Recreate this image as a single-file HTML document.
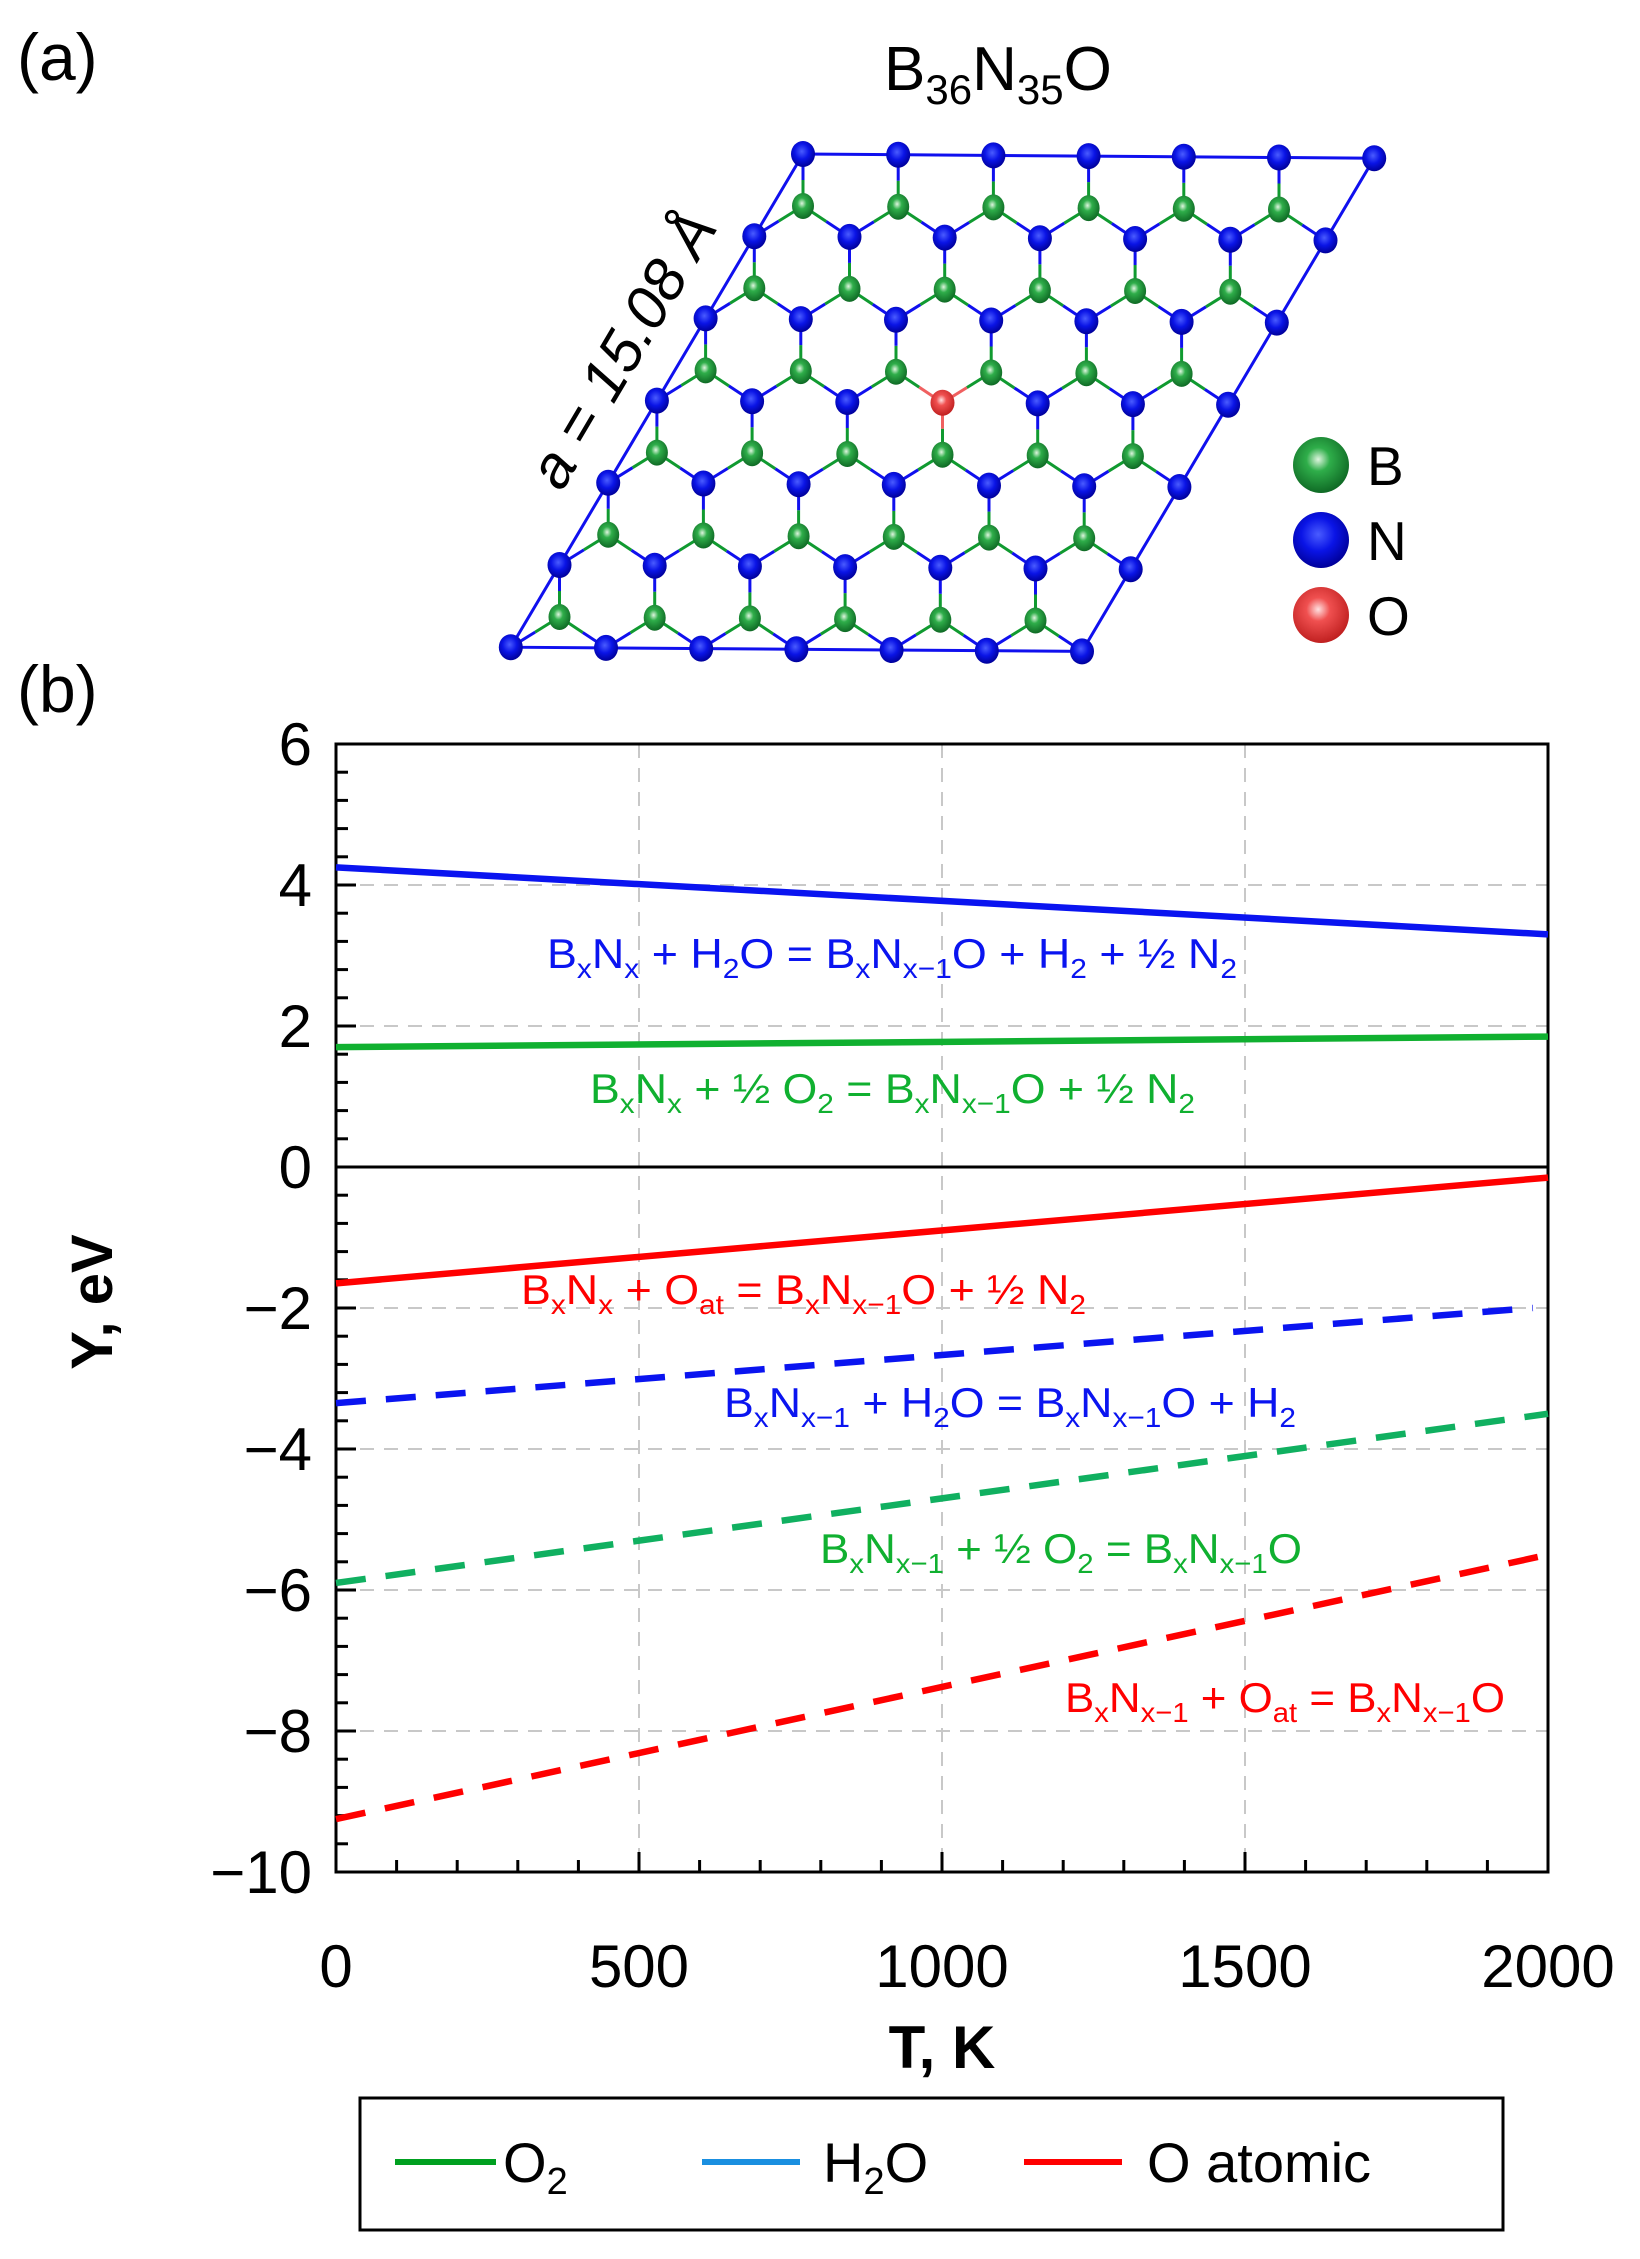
<!DOCTYPE html>
<html><head><meta charset="utf-8">
<style>
html,body{margin:0;padding:0;background:#fff;}
svg{display:block;font-family:"Liberation Sans",Arial,sans-serif;}
</style></head>
<body>
<svg id="s" width="1640" height="2259" viewBox="0 0 1640 2259" xmlns="http://www.w3.org/2000/svg">
<defs>
<radialGradient id="gB" cx="0.45" cy="0.4" r="0.6"><stop offset="0" stop-color="#dff5df"/><stop offset="0.35" stop-color="#2fae4a"/><stop offset="1" stop-color="#0f6a25"/></radialGradient>
<radialGradient id="gN" cx="0.45" cy="0.4" r="0.6"><stop offset="0" stop-color="#4a5cff"/><stop offset="0.5" stop-color="#0a14e6"/><stop offset="1" stop-color="#00009a"/></radialGradient>
<radialGradient id="gO" cx="0.45" cy="0.4" r="0.6"><stop offset="0" stop-color="#ffe0e0"/><stop offset="0.35" stop-color="#f05050"/><stop offset="1" stop-color="#c02020"/></radialGradient>
</defs>
<text x="17" y="80" font-size="66">(a)</text>
<text x="17" y="712" font-size="66">(b)</text>
<text x="884" y="90" font-size="62">B<tspan font-size="42" dy="14">36</tspan><tspan dy="-14">N</tspan><tspan font-size="42" dy="14">35</tspan><tspan dy="-14">O</tspan></text>
<text transform="translate(640,360) rotate(-59.4)" text-anchor="middle" font-size="60" font-style="italic">a = 15.08 Å</text>
<g id="lat"></g>
<circle cx="1321" cy="465" r="28" fill="url(#gB)"/>
<circle cx="1321" cy="540" r="28" fill="url(#gN)"/>
<circle cx="1321" cy="615" r="28" fill="url(#gO)"/>
<text x="1367" y="485" font-size="55">B</text>
<text x="1367" y="560" font-size="55">N</text>
<text x="1367" y="635" font-size="55">O</text>
<g id="plot"></g>
<rect x="360" y="2098" width="1143" height="132" fill="none" stroke="#000" stroke-width="3"/>
<line x1="395" y1="2162" x2="496" y2="2162" stroke="#00a020" stroke-width="6"/>
<text x="503" y="2182" font-size="56">O<tspan font-size="38" dy="12">2</tspan></text>
<line x1="702" y1="2162" x2="800" y2="2162" stroke="#1a8fe0" stroke-width="6"/>
<text x="823" y="2182" font-size="56">H<tspan font-size="38" dy="12">2</tspan><tspan dy="-12">O</tspan></text>
<line x1="1024" y1="2162" x2="1122" y2="2162" stroke="#ff0000" stroke-width="6"/>
<text x="1147" y="2182" font-size="56">O atomic</text>
</svg>
<script>
var NS="http://www.w3.org/2000/svg";
function el(p,t,a,txt){var e=document.createElementNS(NS,t);for(var k in a)e.setAttribute(k,a[k]);if(txt!=null)e.textContent=txt;p.appendChild(e);return e;}
var lat=document.getElementById("lat");
var TL=[803,154],a1=[95.2,0.7],a2=[-48.7,82.2];
function N(j,i){return [TL[0]+i*a1[0]+j*a2[0],TL[1]+i*a1[1]+j*a2[1]];}
function B(j,i){var n=N(j,i);return [n[0],n[1]+52];}
var c0=N(0,0),c1=N(0,6),c2=N(6,6),c3=N(6,0);
el(lat,"polygon",{points:[c0,c1,c2,c3].map(function(p){return p.join(",")}).join(" "),fill:"none",stroke:"#1010ee","stroke-width":3});
function bond(p,q,cp,cq){var m=[(p[0]+q[0])/2,(p[1]+q[1])/2];
el(lat,"line",{x1:p[0],y1:p[1],x2:m[0],y2:m[1],stroke:cp,"stroke-width":3});
el(lat,"line",{x1:m[0],y1:m[1],x2:q[0],y2:q[1],stroke:cq,"stroke-width":3});}
function isO(j,i){return j==3&&i==3;}
for(var j=0;j<6;j++)for(var i=0;i<6;i++){var b=B(j,i);
 var nb=[[j,i],[j+1,i],[j+1,i+1]];
 nb.forEach(function(q){bond(b,N(q[0],q[1]),"#109a30",isO(q[0],q[1])?"#f06060":"#1010ee");});}
for(var j=0;j<6;j++)for(var i=0;i<6;i++){var b=B(j,i);el(lat,"ellipse",{cx:b[0],cy:b[1],rx:11,ry:13,fill:"url(#gB)"});}
for(var j=0;j<7;j++)for(var i=0;i<7;i++){var n=N(j,i);
 if(isO(j,i))el(lat,"ellipse",{cx:n[0],cy:n[1],rx:12,ry:13,fill:"url(#gO)"});
 else el(lat,"ellipse",{cx:n[0],cy:n[1],rx:12,ry:13,fill:"url(#gN)"});}
var P=document.getElementById("plot");
var x0=336,x1=1548;
function X(t){return x0+t*(x1-x0)/2000;}
function Y(v){return 744+(6-v)*70.5;}
[500,1000,1500].forEach(function(t){el(P,"line",{x1:X(t),y1:Y(6),x2:X(t),y2:Y(-10),stroke:"#c8c8c8","stroke-width":2,"stroke-dasharray":"14,10"});});
[4,2,-2,-4,-6,-8].forEach(function(v){el(P,"line",{x1:x0,y1:Y(v),x2:x1,y2:Y(v),stroke:"#c8c8c8","stroke-width":2,"stroke-dasharray":"14,10"});});
for(var v=-10;v<=6.001;v+=0.4){var maj=Math.abs(v-Math.round(v/2)*2)<0.01;
 el(P,"line",{x1:x0,y1:Y(v),x2:x0+(maj?20:12),y2:Y(v),stroke:"#000","stroke-width":3});}
for(var t=0;t<=2000;t+=100){var maj=t%500==0;
 el(P,"line",{x1:X(t),y1:Y(-10),x2:X(t),y2:Y(-10)-(maj?20:12),stroke:"#000","stroke-width":3});}
el(P,"rect",{x:x0,y:Y(6),width:x1-x0,height:Y(-10)-Y(6),fill:"none",stroke:"#000","stroke-width":3});
el(P,"line",{x1:x0,y1:Y(0),x2:x1,y2:Y(0),stroke:"#000","stroke-width":3});
[6,4,2,0,-2,-4,-6,-8,-10].forEach(function(v){el(P,"text",{x:312,y:Y(v)+21,"text-anchor":"end","font-size":60},(v<0?"\u2212":"")+Math.abs(v));});
[0,500,1000,1500,2000].forEach(function(t){el(P,"text",{x:X(t),y:1987,"text-anchor":"middle","font-size":60},t);});
el(P,"text",{x:942,y:2068,"text-anchor":"middle","font-size":60,"font-weight":"bold"},"T, K");
el(P,"text",{transform:"translate(112,1302) rotate(-90)","text-anchor":"middle","font-size":58,"font-weight":"bold"},"Y, eV");
function ln(t0,v0,t1,v1,c,d){var a={x1:X(t0),y1:Y(v0),x2:X(t1),y2:Y(v1),stroke:c,"stroke-width":6.5};if(d)a["stroke-dasharray"]="30,20";el(P,"line",a);}
ln(0,4.25,2000,3.3,"#0a14f0");
ln(0,1.7,2000,1.85,"#10b030");
ln(0,-1.65,2000,-0.15,"#ff0000");
ln(0,-3.35,1975,-2.0,"#0a14f0",1);
ln(0,-5.9,2000,-3.5,"#10b060",1);
ln(0,-9.25,2000,-5.5,"#ff0000",1);
function ann(x,y,w,c,parts){var t=el(P,"text",{x:x,y:y,fill:c,"font-size":42,textLength:w,lengthAdjust:"spacingAndGlyphs"});
 parts.forEach(function(p){el(t,"tspan",p[1]?{"font-size":28,dy:10}:{dy:p[2]||0},p[0]);});}
var S=1;
ann(547,968,690,"#0a14f0",[["B"],["x",S],["N",0,-10],["x",S],[" + H",0,-10],["2",S],["O = B",0,-10],["x",S],["N",0,-10],["x\u22121",S],["O + H",0,-10],["2",S],[" + \u00bd N",0,-10],["2",S]]);
ann(590,1103,605,"#10b030",[["B"],["x",S],["N",0,-10],["x",S],[" + \u00bd O",0,-10],["2",S],[" = B",0,-10],["x",S],["N",0,-10],["x\u22121",S],["O + \u00bd N",0,-10],["2",S]]);
ann(521,1304,565,"#ff0000",[["B"],["x",S],["N",0,-10],["x",S],[" + O",0,-10],["at",S],[" = B",0,-10],["x",S],["N",0,-10],["x\u22121",S],["O + \u00bd N",0,-10],["2",S]]);
ann(724,1417,572,"#0a14f0",[["B"],["x",S],["N",0,-10],["x\u22121",S],[" + H",0,-10],["2",S],["O = B",0,-10],["x",S],["N",0,-10],["x\u22121",S],["O + H",0,-10],["2",S]]);
ann(820,1563,482,"#10b030",[["B"],["x",S],["N",0,-10],["x\u22121",S],[" + \u00bd O",0,-10],["2",S],[" = B",0,-10],["x",S],["N",0,-10],["x\u22121",S],["O",0,-10]]);
ann(1065,1712,440,"#ff0000",[["B"],["x",S],["N",0,-10],["x\u22121",S],[" + O",0,-10],["at",S],[" = B",0,-10],["x",S],["N",0,-10],["x\u22121",S],["O",0,-10]]);
</script>
</body></html>
